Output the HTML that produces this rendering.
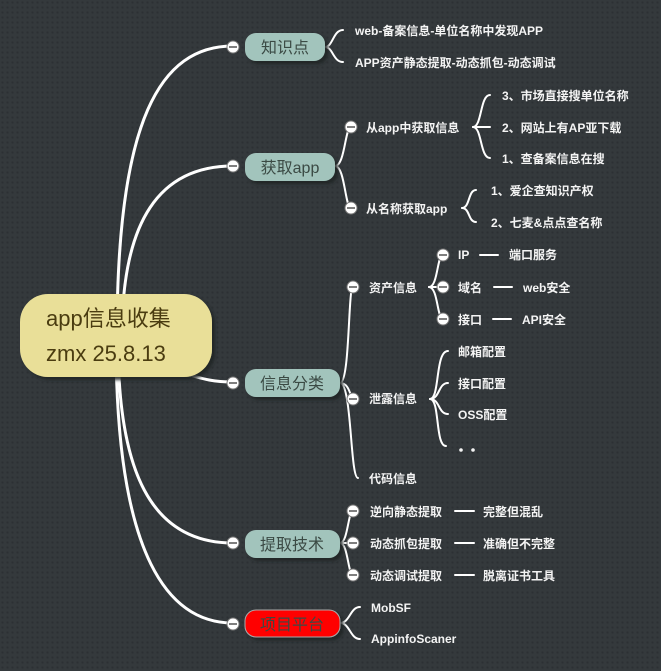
<!DOCTYPE html>
<html><head><meta charset="utf-8"><style>
html,body{margin:0;padding:0;}
body{width:661px;height:671px;overflow:hidden;background-color:#34393c;background-image:radial-gradient(#2c3033 1px,transparent 1.2px);background-size:5px 5px;}
svg{display:block;}
text{font-family:"Liberation Sans","Noto Sans CJK SC",sans-serif;}
.l{fill:#f4f4f4;font-size:12px;font-weight:bold;}
.m{fill:#3b4a44;font-size:16px;}
</style></head><body>
<svg width="661" height="671" xmlns="http://www.w3.org/2000/svg">
<defs>
<filter id="sh" x="-10%" y="-10%" width="130%" height="140%"><feDropShadow dx="3" dy="3" stdDeviation="1.5" flood-color="#1e2122" flood-opacity="0.9"/></filter>
</defs>
<g fill="none" stroke="#fff" stroke-width="3" stroke-linecap="round">
<path d="M117,336 C117,120 160,46 233,46"/>
<path d="M122,336 C122,220 160,166 233,166"/>
<path d="M180,372 C205,380 215,382 233,382"/>
<path d="M118,340 C118,470 150,543 233,543"/>
<path d="M116,340 C116,560 170,623 233,623"/>
</g>
<g fill="none" stroke="#fff" stroke-width="2" stroke-linecap="round">
<path d="M325,47 C333,47 333,30 343,30"/><path d="M325,47 C333,47 333,62 343,62"/>
<path d="M335,166 C345,166 345,127 351,127"/><path d="M335,166 C345,166 345,208 351,208"/>
<path d="M473,127 C482,127 480,95 490,95"/><path d="M473,127 L490,127"/><path d="M473,127 C482,127 480,158 490,158"/>
<path d="M462,208 C470,208 468,190 476,190"/><path d="M462,208 C470,208 468,222 476,222"/>
<path d="M340,383 C350,383 348,287 353,287"/><path d="M340,383 C350,383 350,398 353,398"/><path d="M340,383 C352,383 350,478 358,478"/>
<path d="M429,287 C438,287 437,255 443,255"/><path d="M429,287 L443,287"/><path d="M429,287 C438,287 437,319 443,319"/>
<path d="M480,255 L498,255"/><path d="M494,287 L512,287"/><path d="M493,319 L511,319"/>
<path d="M430,399 C440,399 435,351 448,351"/><path d="M430,399 C440,399 438,383 448,383"/><path d="M430,399 C440,399 438,414 448,414"/><path d="M430,399 C440,399 435,446 446,446"/>
<path d="M340,543 C348,543 348,511 353,511"/><path d="M340,543 L353,543"/><path d="M340,543 C348,543 348,575 353,575"/>
<path d="M455,511 L474,511"/><path d="M455,543 L474,543"/><path d="M455,575 L474,575"/>
<path d="M340,623 C350,623 350,607 360,607"/><path d="M340,623 C350,623 350,639 360,639"/>
</g>
<rect x="20" y="294" width="192" height="83" rx="28" fill="#e9df98" filter="url(#sh)"/>
<text x="46" y="326" font-size="22" fill="#4a3c10">app信息收集</text>
<text x="46" y="361" font-size="22" fill="#4a3c10">zmx 25.8.13</text>
<g filter="url(#sh)">
<rect x="245" y="33" width="80" height="28" rx="11" fill="#a2c4bc"/>
<rect x="245" y="153" width="90" height="28" rx="11" fill="#a2c4bc"/>
<rect x="245" y="369" width="95" height="28" rx="11" fill="#a2c4bc"/>
<rect x="245" y="530" width="95" height="28" rx="11" fill="#a2c4bc"/>
<rect x="245" y="610" width="95" height="27" rx="11" fill="#ff0000" stroke="#aaa" stroke-width="1"/>
</g>
<text class="m" x="285" y="53" text-anchor="middle">知识点</text>
<text class="m" x="290" y="173" text-anchor="middle">获取app</text>
<text class="m" x="292" y="389" text-anchor="middle">信息分类</text>
<text class="m" x="292" y="550" text-anchor="middle">提取技术</text>
<text class="m" x="292" y="630" text-anchor="middle" fill="#7a1010">项目平台</text>
<g fill="#fff" stroke="#777" stroke-width="1">
<circle cx="233" cy="47" r="6"/><circle cx="233" cy="166" r="6"/><circle cx="233" cy="383" r="6"/><circle cx="233" cy="543" r="6"/><circle cx="233" cy="624" r="6"/>
<circle cx="351" cy="127" r="6"/><circle cx="351" cy="208" r="6"/>
<circle cx="353" cy="287" r="6"/><circle cx="353" cy="399" r="6"/>
<circle cx="443" cy="255" r="6"/><circle cx="443" cy="287" r="6"/><circle cx="443" cy="319" r="6"/>
<circle cx="353" cy="511" r="6"/><circle cx="353" cy="543" r="6"/><circle cx="353" cy="575" r="6"/>
</g>
<g stroke="#555" stroke-width="1.5">
<path d="M229,47h8M229,166h8M229,383h8M229,543h8M229,624h8M347,127h8M347,208h8M349,287h8M349,399h8M439,255h8M439,287h8M439,319h8M349,511h8M349,543h8M349,575h8"/>
</g>
<text class="l" x="355" y="35">web-备案信息-单位名称中发现APP</text>
<text class="l" x="355" y="67">APP资产静态提取-动态抓包-动态调试</text>
<text class="l" x="366" y="132">从app中获取信息</text>
<text class="l" x="366" y="213">从名称获取app</text>
<text class="l" x="502" y="100">3、市场直接搜单位名称</text>
<text class="l" x="502" y="132">2、网站上有AP亚下载</text>
<text class="l" x="502" y="163">1、查备案信息在搜</text>
<text class="l" x="491" y="195">1、爱企查知识产权</text>
<text class="l" x="491" y="227">2、七麦&amp;点点查名称</text>
<text class="l" x="369" y="292">资产信息</text>
<text class="l" x="458" y="259">IP</text><text class="l" x="509" y="259">端口服务</text>
<text class="l" x="458" y="292">域名</text><text class="l" x="523" y="292">web安全</text>
<text class="l" x="458" y="324">接口</text><text class="l" x="522" y="324">API安全</text>
<text class="l" x="369" y="403">泄露信息</text>
<text class="l" x="458" y="356">邮箱配置</text>
<text class="l" x="458" y="388">接口配置</text>
<text class="l" x="458" y="419">OSS配置</text>
<circle cx="461" cy="450" r="1.8" fill="#f4f4f4"/><circle cx="473" cy="450" r="1.8" fill="#f4f4f4"/>
<text class="l" x="369" y="483">代码信息</text>
<text class="l" x="370" y="516">逆向静态提取</text><text class="l" x="483" y="516">完整但混乱</text>
<text class="l" x="370" y="548">动态抓包提取</text><text class="l" x="483" y="548">准确但不完整</text>
<text class="l" x="370" y="580">动态调试提取</text><text class="l" x="483" y="580">脱离证书工具</text>
<text class="l" x="371" y="612">MobSF</text>
<text class="l" x="371" y="643">AppinfoScaner</text>
</svg>
</body></html>
